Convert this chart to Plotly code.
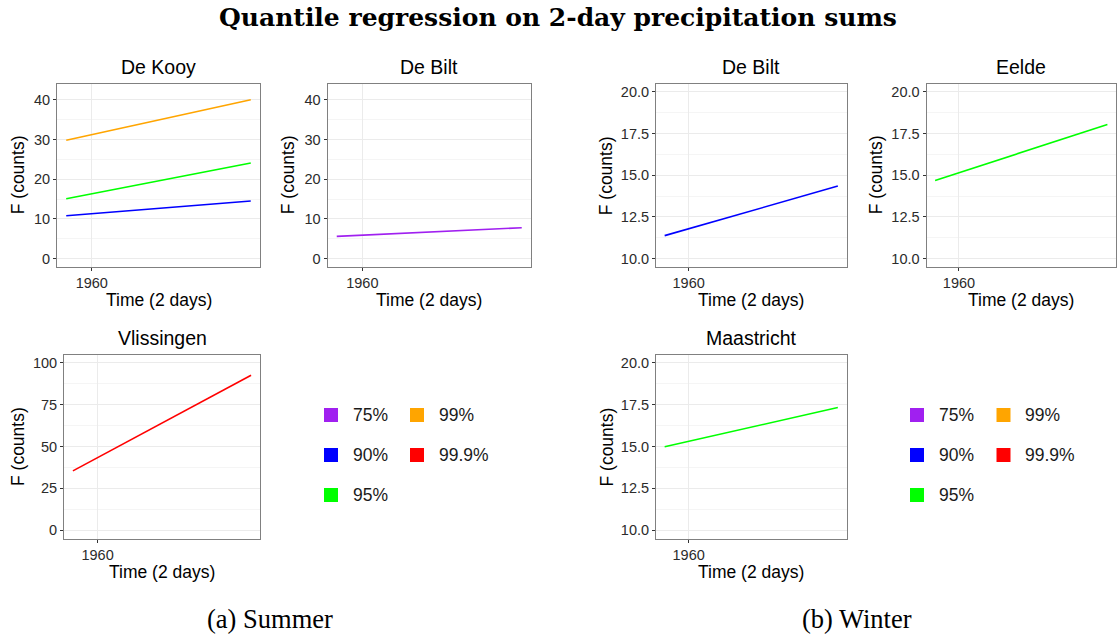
import plotly.graph_objects as go

W, H = 1117, 635

# ---------------- data ----------------
years = [1951, 2016]          # start / end of the regression lines
quantile_labels = ['75%', '90%', '95%', '99%', '99.9%']
quantile_colors = ['#A020F0', '#0000FF', '#00FF00', '#FFA500', '#FF0000']

# Summer
de_kooy_90 = [10.8, 14.5]
de_kooy_95 = [15.1, 24.1]
de_kooy_99 = [29.8, 40.0]
de_bilt_summer_75 = [5.6, 7.8]
vlissingen_999 = [35.4, 92.6]
# Winter
de_bilt_winter_90 = [11.38, 14.35]
eelde_95 = [14.69, 18.04]
maastricht_95 = [14.98, 17.33]

x_ticks = [1960]
summer_ticks = [0, 10, 20, 30, 40]
vlis_ticks = [0, 25, 50, 75, 100]
winter_ticks = [10.0, 12.5, 15.0, 17.5, 20.0]

col = dict(zip(quantile_labels, quantile_colors))

# panel boxes in pixels: (left, right, top, bottom)
panels = [
    dict(name='De Kooy', box=(57, 260, 83.5, 267), yr=[-2.1, 44.1], yt=summer_ticks, fmt='%d', ytx=18,
         series=[('90%', de_kooy_90), ('95%', de_kooy_95), ('99%', de_kooy_99)]),
    dict(name='De Bilt', box=(327.5, 531, 83.5, 267), yr=[-2.1, 44.1], yt=summer_ticks, fmt='%d', ytx=288,
         series=[('75%', de_bilt_summer_75)]),
    dict(name='De Bilt', box=(656, 846.5, 83.5, 267), yr=[9.5, 20.5], yt=winter_ticks, fmt='%.1f', ytx=606,
         series=[('90%', de_bilt_winter_90)]),
    dict(name='Eelde', box=(926.5, 1116, 83.5, 267), yr=[9.5, 20.5], yt=winter_ticks, fmt='%.1f', ytx=876,
         series=[('95%', eelde_95)]),
    dict(name='Vlissingen', box=(64, 260, 354.5, 538.5), yr=[-5, 105], yt=vlis_ticks, fmt='%d', ytx=17.5,
         series=[('99.9%', vlissingen_999)]),
    dict(name='Maastricht', box=(656, 846.5, 354.5, 538.5), yr=[9.5, 20.5], yt=winter_ticks, fmt='%.1f', ytx=606,
         series=[('95%', maastricht_95)]),
]

SANS = 'Liberation Sans, Arial, sans-serif'
SERIF = 'Liberation Serif, Times New Roman, serif'

fig = go.Figure()
layout = dict(width=W, height=H, margin=dict(l=0, r=0, t=0, b=0),
              paper_bgcolor='white', plot_bgcolor='white', showlegend=False)
annotations = []
shapes = []

span = years[1] - years[0]
xr = [years[0] - 0.05 * span, years[1] + 0.05 * span]

for i, p in enumerate(panels, start=1):
    l, r, t, b = p['box']
    xa = 'xaxis' if i == 1 else f'xaxis{i}'
    ya = 'yaxis' if i == 1 else f'yaxis{i}'
    xref = 'x' if i == 1 else f'x{i}'
    yref = 'y' if i == 1 else f'y{i}'
    yt = p['yt']
    minor_vals = [(yt[k] + yt[k + 1]) / 2 for k in range(len(yt) - 1)]
    layout[xa] = dict(domain=[l / W, r / W], range=xr, anchor=yref,
                      tickmode='array', tickvals=x_ticks, ticktext=[str(v) for v in x_ticks],
                      showline=True, mirror=True, linecolor='#808080', linewidth=1,
                      ticks='outside', ticklen=3, tickcolor='#333333',
                      tickfont=dict(family=SANS, size=14.5, color='#2b2b2b'),
                      showgrid=True, gridcolor='#ebebeb', gridwidth=1, zeroline=False,
                      fixedrange=True)
    layout[ya] = dict(domain=[1 - b / H, 1 - t / H], range=p['yr'], anchor=xref,
                      tickmode='array', tickvals=yt, ticktext=[p['fmt'] % v for v in yt],
                      showline=True, mirror=True, linecolor='#808080', linewidth=1,
                      ticks='outside', ticklen=3, tickcolor='#333333',
                      tickfont=dict(family=SANS, size=14.5, color='#2b2b2b'),
                      showgrid=True, gridcolor='#ebebeb', gridwidth=1, zeroline=False,
                      minor=dict(tickvals=minor_vals, showgrid=True, gridcolor='#f5f5f5',
                                 gridwidth=1, ticks=''),
                      fixedrange=True)
    for q, vals in p['series']:
        fig.add_trace(go.Scatter(x=years, y=vals, mode='lines',
                                 line=dict(color=col[q], width=1.6),
                                 xaxis=xref, yaxis=yref, hoverinfo='skip'))
    cx = (l + r) / 2
    # panel title
    annotations.append(dict(text=p['name'], x=cx / W, y=1 - (t - 17) / H, xref='paper', yref='paper',
                            xanchor='center', yanchor='middle', showarrow=False,
                            font=dict(family=SANS, size=19.5, color='black')))
    # x axis title
    annotations.append(dict(text='Time (2 days)', x=cx / W, y=1 - (b + 33) / H, xref='paper',
                            yref='paper', xanchor='center', yanchor='middle', showarrow=False,
                            font=dict(family=SANS, size=17.5, color='black')))
    # y axis title
    annotations.append(dict(text='F (counts)', x=p['ytx'] / W, y=1 - (t + b) / 2 / H, xref='paper',
                            yref='paper', xanchor='center', yanchor='middle', showarrow=False,
                            textangle=-90, font=dict(family=SANS, size=17.5, color='black')))

# legends
legend_rows = [415, 455, 495]
legend_layout = [  # (square x centre col1, text x col1, square x col2, text x col2)
    (331, 350.5, 417, 436.5),
    (917, 936.5, 1003.5, 1023),
]
for sq1, tx1, sq2, tx2 in legend_layout:
    for k, q in enumerate(quantile_labels):
        colk = 0 if k < 3 else 1
        row = k if k < 3 else k - 3
        sqx = sq1 if colk == 0 else sq2
        tx = tx1 if colk == 0 else tx2
        yy = legend_rows[row]
        shapes.append(dict(type='rect', xref='paper', yref='paper',
                           x0=(sqx - 7) / W, x1=(sqx + 7) / W,
                           y0=1 - (yy + 7) / H, y1=1 - (yy - 7) / H,
                           fillcolor=col[q], line=dict(width=0)))
        annotations.append(dict(text=q, x=tx / W, y=1 - yy / H, xref='paper', yref='paper',
                                xanchor='left', yanchor='middle', showarrow=False,
                                font=dict(family=SANS, size=17.5, color='#1a1a1a')))

# main title and captions
annotations.append(dict(text='<b>Quantile regression on 2-day precipitation sums</b>',
                        x=558 / W, y=1 - 17 / H, xref='paper', yref='paper',
                        xanchor='center', yanchor='middle', showarrow=False,
                        font=dict(family='DejaVu Serif, serif', size=25, color='black')))
annotations.append(dict(text='(a) Summer', x=270 / W, y=1 - 619 / H, xref='paper', yref='paper',
                        xanchor='center', yanchor='middle', showarrow=False,
                        font=dict(family=SERIF, size=26.5, color='black')))
annotations.append(dict(text='(b) Winter', x=857 / W, y=1 - 619 / H, xref='paper', yref='paper',
                        xanchor='center', yanchor='middle', showarrow=False,
                        font=dict(family=SERIF, size=26.5, color='black')))

layout['annotations'] = annotations
layout['shapes'] = shapes
fig.update_layout(**layout)
fig.write_html('out.html')
